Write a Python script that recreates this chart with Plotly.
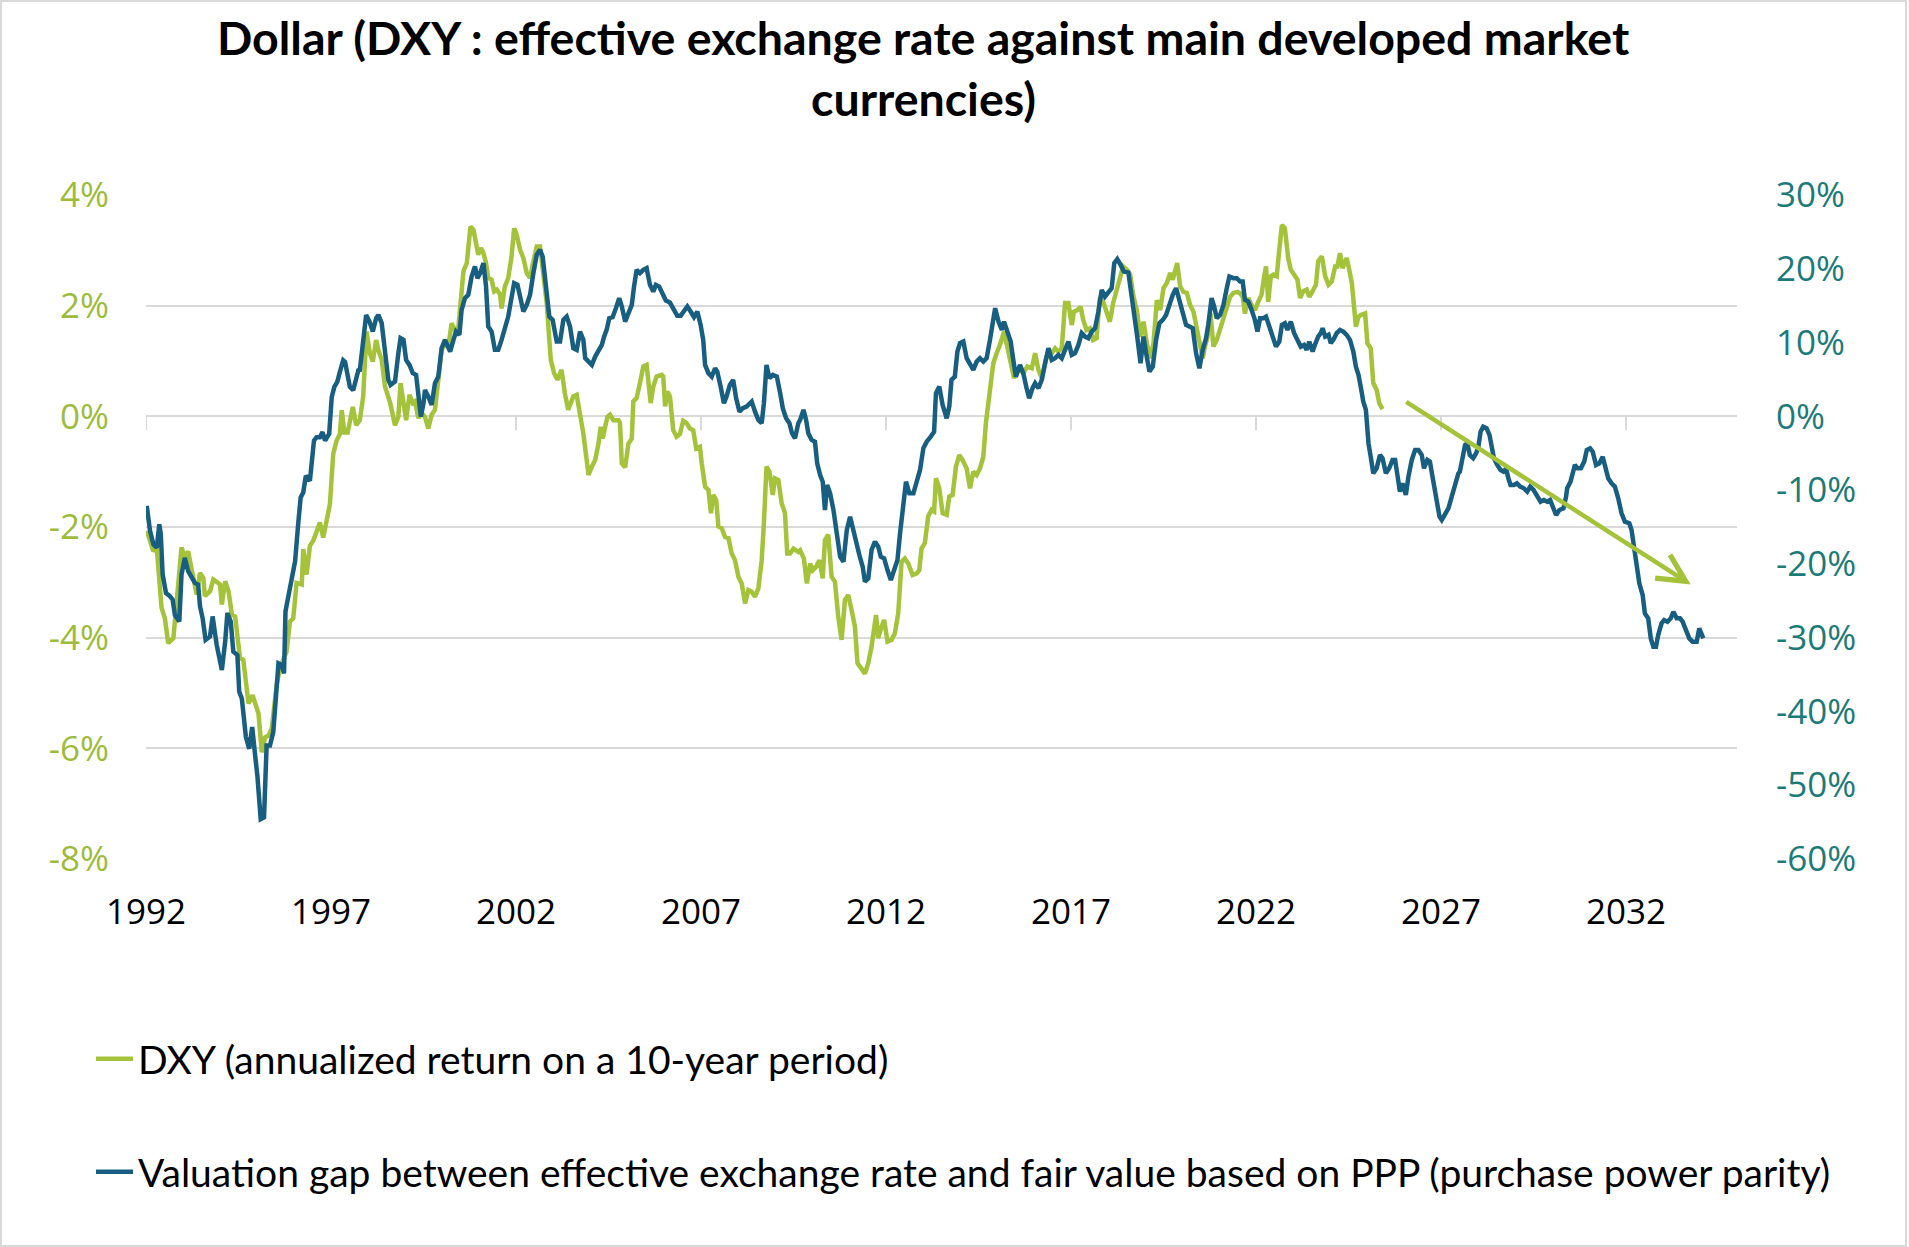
import plotly.graph_objects as go

# ---------------- data ----------------
dxy_years = [
    1992.02, 1992.20, 1992.29, 1992.42, 1992.51, 1992.60, 1992.74, 1992.83, 1992.96, 1993.05,
    1993.14, 1993.28, 1993.37, 1993.46, 1993.55, 1993.59, 1993.73, 1993.82, 1994.00, 1994.05,
    1994.14, 1994.23, 1994.32, 1994.41, 1994.54, 1994.63, 1994.77, 1994.88, 1995.04, 1995.13,
    1995.22, 1995.31, 1995.40, 1995.53, 1995.62, 1995.80, 1995.89, 1995.98, 1996.07, 1996.21,
    1996.25, 1996.34, 1996.43, 1996.52, 1996.61, 1996.70, 1996.79, 1996.88, 1996.97, 1997.06,
    1997.15, 1997.24, 1997.29, 1997.36, 1997.45, 1997.59, 1997.68, 1997.78, 1997.87, 1997.96,
    1998.05, 1998.13, 1998.22, 1998.28, 1998.37, 1998.46, 1998.60, 1998.73, 1998.82, 1998.88,
    1998.96, 1999.03, 1999.12, 1999.21, 1999.27, 1999.36, 1999.45, 1999.54, 1999.63, 1999.72,
    1999.81, 1999.90, 1999.99, 2000.08, 2000.17, 2000.26, 2000.35, 2000.44, 2000.53, 2000.58,
    2000.67, 2000.77, 2000.85, 2000.92, 2000.98, 2001.05, 2001.12, 2001.19, 2001.25, 2001.34,
    2001.41, 2001.48, 2001.57, 2001.61, 2001.70, 2001.79, 2001.88, 2001.95, 2002.02, 2002.11,
    2002.20, 2002.29, 2002.38, 2002.45, 2002.56, 2002.65, 2002.74, 2002.83, 2002.94, 2003.03,
    2003.12, 2003.23, 2003.32, 2003.41, 2003.55, 2003.64, 2003.82, 2003.89, 2003.96, 2004.05,
    2004.14, 2004.23, 2004.29, 2004.34, 2004.41, 2004.47, 2004.54, 2004.63, 2004.77, 2004.81,
    2004.86, 2004.95, 2005.04, 2005.13, 2005.17, 2005.26, 2005.35, 2005.44, 2005.53, 2005.58,
    2005.64, 2005.71, 2005.80, 2005.94, 2005.98, 2006.03, 2006.09, 2006.16, 2006.25, 2006.34,
    2006.43, 2006.52, 2006.61, 2006.70, 2006.79, 2006.87, 2006.97, 2007.02, 2007.11, 2007.20,
    2007.27, 2007.33, 2007.41, 2007.47, 2007.56, 2007.65, 2007.74, 2007.83, 2007.92, 2008.01,
    2008.10, 2008.19, 2008.28, 2008.37, 2008.46, 2008.55, 2008.64, 2008.70, 2008.77, 2008.85,
    2008.94, 2009.00, 2009.09, 2009.18, 2009.27, 2009.33, 2009.41, 2009.50, 2009.63, 2009.68,
    2009.78, 2009.86, 2009.95, 2010.02, 2010.11, 2010.20, 2010.29, 2010.35, 2010.44, 2010.53,
    2010.62, 2010.71, 2010.80, 2010.89, 2010.98, 2011.07, 2011.16, 2011.23, 2011.34, 2011.43,
    2011.52, 2011.61, 2011.73, 2011.79, 2011.88, 2011.95, 2012.04, 2012.15, 2012.24, 2012.33,
    2012.42, 2012.51, 2012.60, 2012.72, 2012.83, 2012.90, 2012.96, 2013.05, 2013.14, 2013.23,
    2013.30, 2013.35, 2013.44, 2013.53, 2013.64, 2013.71, 2013.80, 2013.89, 2013.98, 2014.07,
    2014.18, 2014.27, 2014.36, 2014.45, 2014.54, 2014.63, 2014.70, 2014.79, 2014.90, 2014.99,
    2015.08, 2015.19, 2015.28, 2015.37, 2015.46, 2015.55, 2015.62, 2015.71, 2015.82, 2015.94,
    2016.03, 2016.12, 2016.21, 2016.30, 2016.39, 2016.48, 2016.57, 2016.66, 2016.75, 2016.84,
    2016.93, 2017.02, 2017.08, 2017.17, 2017.26, 2017.33, 2017.42, 2017.51, 2017.60, 2017.69,
    2017.78, 2017.87, 2017.96, 2018.05, 2018.14, 2018.23, 2018.32, 2018.41, 2018.51, 2018.60,
    2018.69, 2018.78, 2018.87, 2018.96, 2019.05, 2019.14, 2019.23, 2019.32, 2019.41, 2019.50,
    2019.59, 2019.68, 2019.75, 2019.81, 2019.87, 2019.95, 2020.04, 2020.13, 2020.22, 2020.31,
    2020.40, 2020.49, 2020.56, 2020.62, 2020.69, 2020.77, 2020.85, 2020.94, 2021.03, 2021.12,
    2021.21, 2021.30, 2021.39, 2021.50, 2021.57, 2021.64, 2021.70, 2021.79, 2021.88, 2021.97,
    2022.06, 2022.15, 2022.22, 2022.27, 2022.33, 2022.40, 2022.47, 2022.56, 2022.63, 2022.70,
    2022.78, 2022.87, 2022.94, 2023.03, 2023.12, 2023.19, 2023.28, 2023.37, 2023.44, 2023.53,
    2023.62, 2023.68, 2023.78, 2023.87, 2023.96, 2024.05, 2024.14, 2024.20, 2024.27, 2024.34,
    2024.41, 2024.45, 2024.52, 2024.59, 2024.65, 2024.70, 2024.77, 2024.83, 2024.95, 2025.01,
    2025.10, 2025.17, 2025.26, 2025.33, 2025.42,
]
dxy_values = [
    -2.07, -2.44, -2.37, -3.46, -3.65, -4.10, -4.01, -3.34, -2.37, -2.56,
    -2.44, -2.92, -3.22, -2.83, -2.92, -3.25, -3.16, -2.95, -3.04, -3.40,
    -2.98, -3.16, -3.58, -3.62, -4.37, -4.40, -5.19, -5.04, -5.37, -6.07,
    -5.80, -5.77, -5.64, -4.86, -4.55, -4.25, -3.71, -3.65, -3.01, -3.04,
    -2.40, -2.86, -2.34, -2.25, -2.07, -1.92, -2.19, -1.83, -1.59, -0.68,
    -0.44, -0.32, 0.11, -0.29, -0.29, 0.17, -0.16, -0.07, 0.36, 1.53,
    1.14, 0.99, 1.38, 1.20, 1.02, 0.54, 0.24, -0.16, -0.01, 0.60,
    0.24, -0.07, 0.39, 0.24, 0.27, -0.03, 0.06, -0.01, -0.22, 0.03,
    0.12, 0.60, 1.20, 1.32, 1.26, 1.68, 1.56, 1.59, 2.23, 2.62,
    2.77, 3.43, 3.37, 3.13, 2.92, 3.04, 2.95, 2.77, 2.50, 2.47,
    2.26, 2.29, 2.20, 1.95, 2.35, 2.50, 2.89, 3.40, 3.28, 3.01,
    2.86, 2.59, 2.50, 2.74, 3.07, 3.07, 2.62, 2.05, 1.02, 0.78,
    0.66, 0.84, 0.42, 0.12, 0.36, 0.39, -0.31, -0.73, -1.06, -0.91,
    -0.79, -0.49, -0.19, -0.40, -0.19, -0.01, 0.03, -0.07, -0.07, -0.12,
    -0.85, -0.92, -0.49, -0.40, 0.27, 0.33, 0.60, 0.90, 0.93, 0.54,
    0.24, 0.54, 0.72, 0.75, 0.72, 0.18, 0.45, 0.36, -0.25, -0.37,
    -0.32, -0.08, -0.12, -0.22, -0.25, -0.58, -0.55, -0.85, -1.27, -1.33,
    -1.75, -1.42, -1.51, -1.99, -2.02, -2.18, -2.20, -2.48, -2.60, -2.90,
    -3.02, -3.38, -3.14, -3.17, -3.26, -3.11, -2.60, -1.93, -0.91, -1.00,
    -1.42, -1.12, -1.15, -1.57, -1.75, -2.48, -2.48, -2.39, -2.45, -2.42,
    -2.57, -3.02, -2.66, -2.78, -2.72, -2.60, -2.93, -2.24, -2.14, -2.90,
    -2.99, -3.62, -4.04, -3.32, -3.23, -3.50, -3.80, -4.46, -4.56, -4.65,
    -4.46, -4.16, -3.59, -4.01, -3.80, -3.68, -4.07, -4.04, -3.92, -3.56,
    -2.63, -2.57, -2.66, -2.87, -2.84, -2.78, -2.39, -2.29, -1.81, -1.69,
    -1.72, -1.12, -1.30, -1.75, -1.78, -1.45, -1.42, -0.91, -0.70, -0.79,
    -0.94, -1.30, -1.00, -1.06, -0.94, -0.73, -0.12, 0.42, 0.96, 1.14,
    1.29, 1.53, 1.26, 1.05, 0.69, 0.84, 0.84, 0.78, 0.90, 0.87,
    1.14, 0.84, 0.69, 0.96, 1.20, 1.14, 1.23, 1.17, 1.23, 2.05,
    2.05, 1.65, 1.89, 1.92, 1.98, 1.74, 1.56, 1.59, 1.38, 1.41,
    2.16, 2.07, 1.86, 1.71, 2.05, 2.25, 2.47, 2.71, 2.65, 2.56,
    2.16, 1.92, 1.44, 1.71, 1.32, 1.05, 1.32, 2.10, 1.92, 2.32,
    2.41, 2.59, 2.47, 2.59, 2.77, 2.35, 2.25, 2.23, 2.01, 1.89,
    1.56, 1.20, 1.05, 1.26, 1.44, 1.86, 1.26, 1.38, 1.56, 1.74,
    1.98, 2.16, 2.23, 2.25, 2.22, 2.16, 1.86, 2.14, 2.01, 1.92,
    2.07, 2.20, 2.53, 2.71, 2.07, 2.53, 2.56, 2.53, 3.01, 3.46,
    3.40, 2.86, 2.65, 2.56, 2.47, 2.14, 2.26, 2.29, 2.16, 2.26,
    2.38, 2.80, 2.89, 2.53, 2.38, 2.44, 2.71, 2.71, 2.95, 2.68,
    2.83, 2.86, 2.65, 2.41, 1.98, 1.62, 1.80, 1.83, 1.86, 1.32,
    1.23, 0.60, 0.48, 0.24, 0.13,
]

gap_years = [
    1992.02, 1992.11, 1992.20, 1992.29, 1992.36, 1992.40, 1992.45, 1992.54, 1992.65, 1992.72,
    1992.78, 1992.90, 1992.96, 1993.05, 1993.14, 1993.23, 1993.32, 1993.41, 1993.46, 1993.53,
    1993.61, 1993.73, 1993.80, 1993.91, 1994.05, 1994.14, 1994.20, 1994.29, 1994.36, 1994.47,
    1994.52, 1994.59, 1994.70, 1994.79, 1994.87, 1994.95, 1995.01, 1995.10, 1995.19, 1995.26,
    1995.35, 1995.44, 1995.53, 1995.58, 1995.67, 1995.73, 1995.77, 1995.85, 1995.94, 1996.03,
    1996.12, 1996.18, 1996.25, 1996.32, 1996.43, 1996.54, 1996.61, 1996.70, 1996.77, 1996.84,
    1996.95, 1997.02, 1997.09, 1997.17, 1997.24, 1997.33, 1997.38, 1997.44, 1997.51, 1997.60,
    1997.69, 1997.74, 1997.78, 1997.87, 1997.95, 1998.04, 1998.13, 1998.22, 1998.28, 1998.37,
    1998.46, 1998.55, 1998.61, 1998.73, 1998.82, 1998.88, 1998.96, 1999.03, 1999.12, 1999.21,
    1999.30, 1999.36, 1999.43, 1999.50, 1999.54, 1999.63, 1999.72, 1999.81, 1999.90, 1999.99,
    2000.08, 2000.14, 2000.22, 2000.31, 2000.38, 2000.47, 2000.53, 2000.62, 2000.71, 2000.80,
    2000.89, 2000.96, 2001.03, 2001.12, 2001.19, 2001.25, 2001.34, 2001.43, 2001.52, 2001.61,
    2001.70, 2001.79, 2001.86, 2001.95, 2002.04, 2002.13, 2002.20, 2002.29, 2002.38, 2002.47,
    2002.56, 2002.65, 2002.72, 2002.78, 2002.85, 2002.90, 2002.99, 2003.10, 2003.19, 2003.28,
    2003.37, 2003.46, 2003.55, 2003.64, 2003.73, 2003.82, 2003.87, 2003.96, 2004.05, 2004.14,
    2004.23, 2004.32, 2004.38, 2004.45, 2004.52, 2004.61, 2004.70, 2004.79, 2004.86, 2004.95,
    2005.04, 2005.13, 2005.19, 2005.26, 2005.35, 2005.44, 2005.53, 2005.62, 2005.71, 2005.78,
    2005.87, 2005.96, 2006.05, 2006.16, 2006.25, 2006.36, 2006.45, 2006.54, 2006.63, 2006.72,
    2006.81, 2006.90, 2006.99, 2007.06, 2007.11, 2007.20, 2007.29, 2007.38, 2007.44, 2007.53,
    2007.62, 2007.69, 2007.78, 2007.87, 2007.95, 2008.04, 2008.13, 2008.23, 2008.37, 2008.46,
    2008.55, 2008.64, 2008.70, 2008.77, 2008.85, 2008.94, 2009.05, 2009.14, 2009.21, 2009.30,
    2009.39, 2009.46, 2009.54, 2009.63, 2009.68, 2009.77, 2009.84, 2009.90, 2009.99, 2010.08,
    2010.14, 2010.22, 2010.29, 2010.35, 2010.41, 2010.49, 2010.58, 2010.67, 2010.76, 2010.85,
    2010.94, 2011.03, 2011.10, 2011.19, 2011.28, 2011.37, 2011.43, 2011.52, 2011.61, 2011.70,
    2011.79, 2011.86, 2011.95, 2012.04, 2012.13, 2012.22, 2012.31, 2012.38, 2012.47, 2012.54,
    2012.63, 2012.74, 2012.83, 2012.92, 2013.01, 2013.10, 2013.21, 2013.30, 2013.35, 2013.44,
    2013.53, 2013.64, 2013.71, 2013.77, 2013.86, 2013.93, 2014.00, 2014.09, 2014.18, 2014.27,
    2014.36, 2014.45, 2014.54, 2014.63, 2014.72, 2014.81, 2014.88, 2014.95, 2015.04, 2015.13,
    2015.19, 2015.28, 2015.37, 2015.44, 2015.51, 2015.62, 2015.71, 2015.80, 2015.87, 2015.96,
    2016.03, 2016.12, 2016.21, 2016.30, 2016.39, 2016.48, 2016.57, 2016.66, 2016.75, 2016.84,
    2016.93, 2017.02, 2017.11, 2017.20, 2017.29, 2017.38, 2017.47, 2017.56, 2017.65, 2017.74,
    2017.83, 2017.92, 2018.01, 2018.10, 2018.17, 2018.25, 2018.34, 2018.43, 2018.55, 2018.64,
    2018.73, 2018.79, 2018.88, 2018.96, 2019.03, 2019.12, 2019.21, 2019.30, 2019.39, 2019.48,
    2019.57, 2019.66, 2019.75, 2019.84, 2019.93, 2020.02, 2020.11, 2020.20, 2020.29, 2020.38,
    2020.47, 2020.56, 2020.65, 2020.71, 2020.80, 2020.87, 2020.94, 2021.03, 2021.12, 2021.21,
    2021.28, 2021.39, 2021.48, 2021.57, 2021.64, 2021.70, 2021.79, 2021.88, 2021.97, 2022.04,
    2022.11, 2022.20, 2022.27, 2022.36, 2022.45, 2022.54, 2022.63, 2022.70, 2022.78, 2022.85,
    2022.94, 2023.03, 2023.12, 2023.21, 2023.30, 2023.37, 2023.44, 2023.53, 2023.59, 2023.68,
    2023.75, 2023.80, 2023.87, 2023.96, 2024.02, 2024.09, 2024.18, 2024.27, 2024.36, 2024.45,
    2024.54, 2024.63, 2024.70, 2024.77, 2024.83, 2024.90, 2024.97, 2025.04, 2025.10, 2025.17,
    2025.26, 2025.35, 2025.42, 2025.51, 2025.60, 2025.69, 2025.76, 2025.82, 2025.89, 2025.96,
    2026.05, 2026.12, 2026.21, 2026.30, 2026.39, 2026.48, 2026.54, 2026.63, 2026.70, 2026.77,
    2026.86, 2026.96, 2027.02, 2027.11, 2027.20, 2027.29, 2027.38, 2027.47, 2027.51, 2027.59,
    2027.65, 2027.71, 2027.78, 2027.87, 2027.95, 2028.01, 2028.07, 2028.14, 2028.23, 2028.31,
    2028.37, 2028.43, 2028.52, 2028.61, 2028.69, 2028.76, 2028.82, 2028.88, 2028.97, 2029.05,
    2029.14, 2029.24, 2029.33, 2029.41, 2029.50, 2029.60, 2029.69, 2029.78, 2029.87, 2029.95,
    2030.04, 2030.11, 2030.20, 2030.31, 2030.38, 2030.41, 2030.50, 2030.58, 2030.62, 2030.69,
    2030.78, 2030.87, 2030.94, 2031.03, 2031.10, 2031.19, 2031.28, 2031.37, 2031.43, 2031.52,
    2031.61, 2031.70, 2031.79, 2031.88, 2031.97, 2032.09, 2032.15, 2032.22, 2032.29, 2032.36,
    2032.45, 2032.51, 2032.60, 2032.67, 2032.74, 2032.81, 2032.87, 2032.96, 2033.03, 2033.12,
    2033.21, 2033.28, 2033.37, 2033.46, 2033.53, 2033.62, 2033.71, 2033.80, 2033.91, 2033.98,
    2034.05, 2034.09,
]
gap_values = [
    -12.14, -15.54, -17.36, -17.81, -14.63, -15.99, -21.44, -23.94, -24.40, -24.85,
    -26.90, -27.80, -21.44, -19.18, -20.99, -21.67, -22.58, -22.81, -25.76, -27.34,
    -30.30, -29.85, -27.12, -30.98, -34.38, -30.53, -26.66, -27.80, -31.89, -32.35,
    -37.34, -38.25, -43.47, -45.06, -42.10, -45.97, -48.69, -54.59, -54.36, -44.61,
    -44.61, -42.79, -36.43, -33.47, -33.70, -34.84, -26.43, -24.17, -22.35, -19.63,
    -14.19, -11.00, -10.32, -8.06, -8.73, -3.28, -2.83, -2.83, -2.14, -3.28,
    -2.37, 2.62, 3.99, 4.67, 6.02, 7.61, 7.39, 5.57, 3.99, 3.53,
    5.57, 6.25, 6.29, 10.81, 13.75, 12.84, 11.49, 13.30, 13.75, 12.63,
    8.56, 4.94, 4.26, 4.71, 8.56, 10.59, 10.36, 7.65, 6.97, 5.85,
    5.62, 2.67, -0.04, 1.78, 3.58, 2.67, 1.55, 4.49, 5.38, 9.24,
    10.36, 9.68, 8.78, 10.36, 11.49, 11.04, 14.43, 16.02, 16.47, 18.95,
    20.30, 18.73, 19.41, 20.77, 17.59, 12.17, 11.49, 9.01, 9.01, 10.36,
    12.17, 13.52, 15.56, 18.05, 17.82, 15.79, 14.20, 15.11, 16.47, 19.41,
    21.89, 22.57, 21.66, 18.95, 16.23, 13.52, 13.07, 10.13, 10.13, 13.07,
    13.52, 12.17, 9.24, 9.01, 11.49, 10.36, 7.88, 7.42, 6.97, 8.10,
    9.01, 9.68, 10.81, 11.72, 13.30, 13.44, 14.66, 16.02, 14.88, 12.84,
    13.98, 15.11, 17.59, 19.86, 19.41, 19.86, 20.09, 17.82, 16.91, 17.82,
    17.59, 16.47, 15.69, 15.42, 14.66, 13.62, 13.62, 14.20, 14.88, 14.20,
    13.44, 14.20, 12.40, 10.36, 6.97, 5.85, 5.38, 6.52, 6.06, 4.03,
    1.78, 2.67, 4.26, 4.94, 2.45, 0.64, 1.10, 1.32, 1.99, 0.64,
    -0.49, -0.94, 1.78, 6.97, 5.17, 5.62, 5.38, 3.13, 1.10, -0.26,
    -0.94, -2.29, -2.97, -0.94, -0.49, 0.87, -0.49, -2.29, -3.20, -3.43,
    -6.36, -7.95, -8.86, -12.70, -9.30, -10.43, -12.70, -15.86, -19.03, -19.71,
    -15.41, -13.60, -15.18, -17.21, -18.80, -20.39, -22.42, -21.96, -18.12, -16.99,
    -17.67, -19.03, -19.25, -20.83, -22.19, -20.83, -19.48, -15.86, -11.34, -8.86,
    -10.43, -10.43, -8.86, -7.27, -4.33, -3.43, -2.75, -2.08, 3.13, 4.03,
    1.55, -0.26, 1.32, 4.94, 5.38, 8.78, 9.91, 10.13, 7.88, 6.97,
    6.29, 7.42, 7.88, 7.42, 7.88, 10.36, 13.07, 14.66, 12.84, 11.72,
    12.84, 11.49, 10.13, 7.65, 5.38, 6.97, 5.85, 3.81, 2.45, 3.81,
    4.49, 3.81, 4.94, 7.20, 9.24, 7.65, 7.88, 8.33, 7.88, 9.01,
    10.13, 8.33, 8.56, 9.68, 11.27, 10.81, 10.59, 11.49, 11.95, 14.20,
    17.14, 16.23, 16.70, 17.37, 20.77, 21.31, 20.53, 19.63, 19.49, 16.23,
    13.98, 10.81, 7.20, 10.81, 8.56, 6.06, 6.74, 10.36, 12.63, 13.07,
    13.75, 15.34, 16.47, 17.37, 15.56, 13.98, 12.40, 12.17, 11.95, 8.56,
    6.52, 9.01, 10.59, 12.40, 16.02, 14.88, 13.30, 13.75, 15.11, 17.37,
    18.95, 18.73, 18.73, 18.27, 18.27, 15.79, 15.56, 14.43, 13.07, 11.49,
    13.30, 13.30, 13.52, 12.17, 10.59, 9.45, 10.13, 12.40, 12.63, 11.72,
    12.84, 11.27, 10.36, 9.45, 9.68, 9.01, 10.13, 8.78, 9.68, 10.81,
    11.27, 11.95, 10.81, 11.04, 9.91, 10.36, 11.27, 11.72, 11.49, 11.04,
    10.36, 8.78, 6.74, 5.62, 4.03, 1.99, 0.87, -3.65, -5.47, -7.72,
    -7.04, -5.24, -5.68, -7.72, -7.04, -5.91, -5.91, -7.72, -10.21, -9.07,
    -10.66, -8.18, -5.91, -4.56, -4.56, -5.24, -7.04, -5.91, -6.14, -8.18,
    -10.89, -13.60, -14.05, -13.37, -12.46, -10.89, -9.07, -7.72, -7.50, -5.47,
    -3.88, -3.65, -5.24, -5.68, -5.00, -4.11, -2.08, -1.40, -1.61, -2.52,
    -4.56, -5.68, -6.59, -7.27, -7.50, -7.04, -8.40, -9.30, -9.30, -9.07,
    -9.53, -9.75, -10.21, -9.53, -9.98, -10.89, -11.57, -11.34, -11.57, -11.34,
    -12.46, -13.37, -12.69, -12.46, -10.89, -9.75, -8.86, -7.50, -6.59, -7.04,
    -7.04, -6.14, -4.56, -4.33, -4.79, -6.59, -6.36, -5.47, -6.59, -8.40,
    -9.07, -9.53, -11.11, -13.14, -14.28, -14.50, -15.41, -18.12, -20.83, -22.64,
    -24.22, -26.71, -27.38, -30.10, -31.24, -31.24, -29.65, -28.06, -27.61, -27.84,
    -27.38, -26.49, -27.38, -27.38, -27.84, -28.97, -30.10, -30.56, -30.56, -28.74,
    -29.88, -30.10,
]

series_names = [
    "DXY (annualized return on a 10-year period)",
    "Valuation gap between effective exchange rate and fair value based on PPP (purchase power parity)",
]
title_lines = [
    "Dollar (DXY : effective exchange rate against main developed market",
    "currencies)",
]

x_tick_years = [1992, 1997, 2002, 2007, 2012, 2017, 2022, 2027, 2032]
x_tick_labels = [str(y) for y in x_tick_years]
x_range = [1992, 2035]

left_ticks = [-8, -6, -4, -2, 0, 2, 4]
left_tick_labels = ["-8%", "-6%", "-4%", "-2%", "0%", "2%", "4%"]
right_ticks = [-60, -50, -40, -30, -20, -10, 0, 10, 20, 30]
right_tick_labels = ["-60%", "-50%", "-40%", "-30%", "-20%", "-10%", "0%", "10%", "20%", "30%"]

# trend arrow (left-axis units): tail -> head
arrow_tail = (2026.02, 0.28)
arrow_head = (2033.75, -3.04)

# ---------------- styling ----------------
GREEN = "#A4C23A"
BLUE = "#185E80"
GREEN_TXT = "#9DBB3C"
TEAL_TXT = "#1C7A78"
GRID = "#D9D9D9"
W, H = 1909, 1247
ML, MR, MT, MB = 146, 172, 195, 388
PW, PH = W - ML - MR, H - MT - MB

def px_to_paper_x(px):
    return (px - ML) / PW

def px_to_paper_y(py):
    return (H - MB - py) / PH

fig = go.Figure()
fig.add_trace(go.Scatter(
    x=dxy_years, y=dxy_values, name=series_names[0], mode="lines",
    line=dict(color=GREEN, width=4.5), yaxis="y", legend="legend",
))
fig.add_trace(go.Scatter(
    x=gap_years, y=gap_values, name=series_names[1], mode="lines",
    line=dict(color=BLUE, width=4.5), yaxis="y2", legend="legend2",
))

shapes = []
# x-axis tick marks hanging from the 0% line
for yr in x_tick_years:
    shapes.append(dict(type="line", xref="x", yref="y", x0=yr, x1=yr,
                       ysizemode="pixel", yanchor=0, y0=0, y1=-14,
                       line=dict(color=GRID, width=2), layer="below"))
# chart border
shapes.append(dict(type="rect", xref="paper", yref="paper",
                   x0=px_to_paper_x(1), x1=px_to_paper_x(1906),
                   y0=px_to_paper_y(1246), y1=px_to_paper_y(1),
                   line=dict(color=GRID, width=2), fillcolor="rgba(0,0,0,0)"))

TITLE_FONT = dict(family="Lato", size=46.5, color="#000000")
annotations = [
    dict(text=f"<b>{title_lines[0]}</b>", xref="paper", yref="paper",
         x=px_to_paper_x(923), y=px_to_paper_y(37), xanchor="center", yanchor="middle",
         showarrow=False, font=TITLE_FONT),
    dict(text=f"<b>{title_lines[1]}</b>", xref="paper", yref="paper",
         x=px_to_paper_x(923), y=px_to_paper_y(98), xanchor="center", yanchor="middle",
         showarrow=False, font=TITLE_FONT),
    dict(x=arrow_head[0], y=arrow_head[1], ax=arrow_tail[0], ay=arrow_tail[1],
         xref="x", yref="y", axref="x", ayref="y", text="", showarrow=True,
         arrowhead=5, arrowsize=1.2, arrowwidth=4.5, arrowcolor=GREEN, standoff=0),
]

tick_font = dict(family="Open Sans", size=35)
LEG_FONT = dict(family="Lato", size=39, color="#000000")

fig.update_layout(
    width=W, height=H,
    margin=dict(l=ML, r=MR, t=MT, b=MB, pad=0, autoexpand=False),
    paper_bgcolor="white", plot_bgcolor="white",
    showlegend=True,
    xaxis=dict(range=x_range, tickmode="array", tickvals=x_tick_years, ticktext=x_tick_labels,
               showgrid=False, zeroline=False, showline=False, ticks="",
               ticklabelstandoff=29, tickfont=dict(color="#000000", **tick_font)),
    yaxis=dict(range=[-8, 4], tickmode="array", tickvals=left_ticks, ticktext=left_tick_labels,
               showgrid=True, gridcolor=GRID, gridwidth=2, zeroline=False, showline=False,
               ticks="", ticklabelstandoff=36, tickfont=dict(color=GREEN_TXT, **tick_font)),
    yaxis2=dict(range=[-60, 30], tickmode="array", tickvals=right_ticks, ticktext=right_tick_labels,
                overlaying="y", side="right", showgrid=False, zeroline=False, showline=False,
                ticks="", ticklabelstandoff=38, tickfont=dict(color=TEAL_TXT, **tick_font)),
    legend=dict(xref="container", yref="container", x=91 / W, y=1 - 1059 / H,
                xanchor="left", yanchor="middle", bgcolor="rgba(0,0,0,0)",
                font=LEG_FONT, itemwidth=37),
    legend2=dict(xref="container", yref="container", x=91 / W, y=1 - 1172 / H,
                 xanchor="left", yanchor="middle", bgcolor="rgba(0,0,0,0)",
                 font=LEG_FONT, itemwidth=37),
    shapes=shapes,
    annotations=annotations,
)

fig.write_html("out.html")
